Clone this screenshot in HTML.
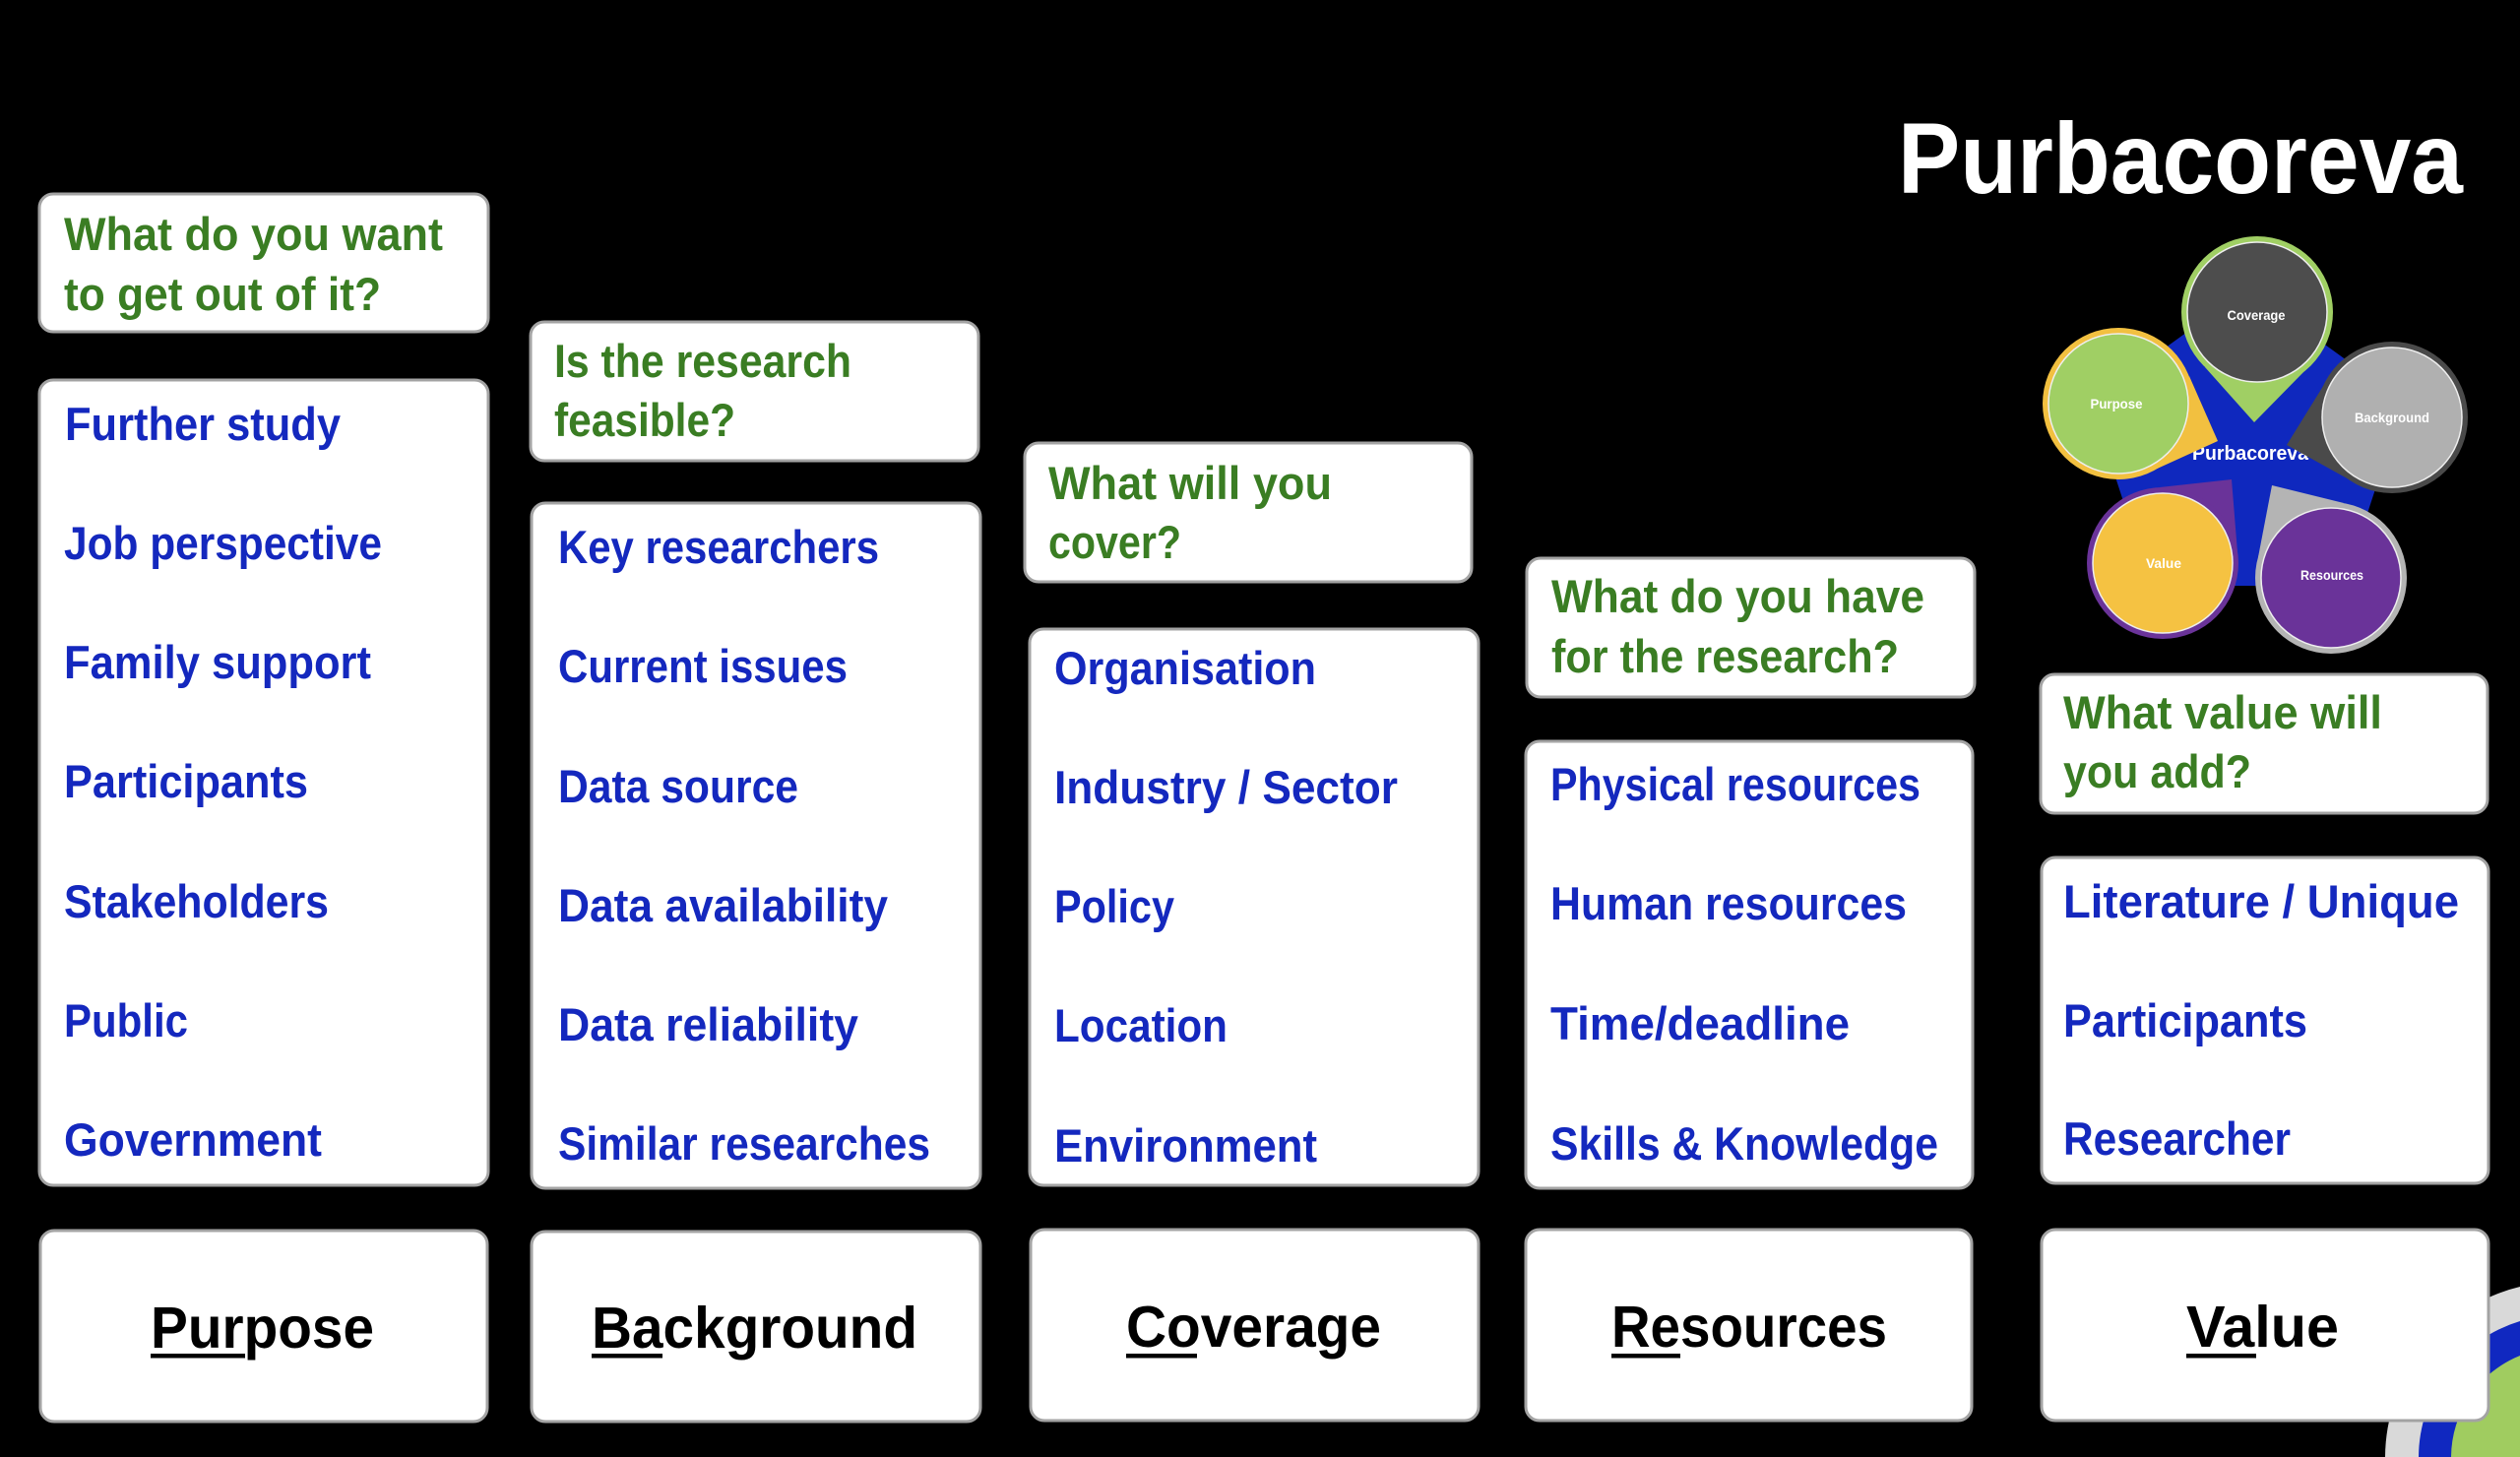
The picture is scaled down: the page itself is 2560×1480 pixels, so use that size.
<!DOCTYPE html>
<html>
<head>
<meta charset="utf-8">
<style>
html,body{margin:0;padding:0;background:#000;width:2560px;height:1480px;overflow:hidden;}
svg{display:block;overflow:hidden;}
text{font-family:"Liberation Sans",Arial,sans-serif;font-weight:bold;}
.q{fill:#3a7d23;font-size:47.5px;}
.i{fill:#1428be;font-size:47.5px;}
.l{fill:#000;font-size:59px;}
.w{fill:#fff;}
.box{fill:#fff;stroke:#a3a3a3;stroke-width:3;}
</style>
</head>
<body>
<svg width="2560" height="1480" viewBox="0 0 2560 1480" xmlns="http://www.w3.org/2000/svg">
<rect x="0" y="0" width="2560" height="1480" fill="#000"/>

<!-- bottom-right decoration (clipped to frame) -->
<path d="M2423,1480 A179,179 0 0 1 2560,1307 L2560,1480 Z" fill="#d9d9d9"/>
<path d="M2457,1480 A145,145 0 0 1 2560,1342 L2560,1480 Z" fill="#1028c0"/>
<path d="M2490,1480 A112,112 0 0 1 2560,1377 L2560,1480 Z" fill="#a0cc60"/>

<!-- Title -->
<text class="w" x="1928" y="196" font-size="102" textLength="574" lengthAdjust="spacingAndGlyphs">Purbacoreva</text>

<!-- Wheel -->
<polygon points="2283,293 2442,408 2381,595 2185,595 2124,408" fill="#0f28be"/>
<text class="w" x="2286" y="467" font-size="20" text-anchor="middle" textLength="118" lengthAdjust="spacingAndGlyphs">Purbacoreva</text>

<!-- Purpose callout -->
<g>
<polygon points="2224,382 2253,448 2187,478" fill="#f2c040"/>
<circle cx="2152" cy="410" r="77" fill="#f2c040"/>
<circle cx="2152" cy="410" r="71" fill="#a0cf64" stroke="#eee" stroke-width="1.5"/>
<text class="w" x="2150" y="415" font-size="14" text-anchor="middle" textLength="53" lengthAdjust="spacingAndGlyphs">Purpose</text>
</g>
<!-- Coverage callout -->
<g>
<polygon points="2343,375 2290,429 2240,373" fill="#a0cf64"/>
<circle cx="2293" cy="317" r="77" fill="#a0cf64"/>
<circle cx="2293" cy="317" r="71" fill="#4d4d4d" stroke="#eee" stroke-width="1.5"/>
<text class="w" x="2292" y="325" font-size="14" text-anchor="middle" textLength="59" lengthAdjust="spacingAndGlyphs">Coverage</text>
</g>
<!-- Background callout -->
<g>
<polygon points="2388,488 2323,452 2362,389" fill="#4a4a4a"/>
<circle cx="2430" cy="424" r="77" fill="#4a4a4a"/>
<circle cx="2430" cy="424" r="71" fill="#b0b0b0" stroke="#eee" stroke-width="1.5"/>
<text class="w" x="2430" y="429" font-size="14" text-anchor="middle" textLength="76" lengthAdjust="spacingAndGlyphs">Background</text>
</g>
<!-- Resources callout -->
<g>
<polygon points="2294,566 2308,493 2381,511" fill="#b4b4b4"/>
<circle cx="2368" cy="587" r="77" fill="#b4b4b4"/>
<circle cx="2368" cy="587" r="71" fill="#6a3399" stroke="#eee" stroke-width="1.5"/>
<text class="w" x="2369" y="589" font-size="14" text-anchor="middle" textLength="64" lengthAdjust="spacingAndGlyphs">Resources</text>
</g>
<!-- Value callout -->
<g>
<polygon points="2194,495 2267,487 2273,561" fill="#6a3399"/>
<circle cx="2197" cy="572" r="77" fill="#6a3399"/>
<circle cx="2197" cy="572" r="71" fill="#f5c242" stroke="#eee" stroke-width="1.5"/>
<text class="w" x="2198" y="577" font-size="14" text-anchor="middle" textLength="36" lengthAdjust="spacingAndGlyphs">Value</text>
</g>

<!-- Column 1 -->
<rect class="box" x="40" y="197" width="456" height="140" rx="14"/>
<text class="q" x="65" y="254" textLength="385" lengthAdjust="spacingAndGlyphs">What do you want</text>
<text class="q" x="65" y="315" textLength="322" lengthAdjust="spacingAndGlyphs">to get out of it?</text>
<rect class="box" x="40" y="386" width="456" height="818" rx="14"/>
<text class="i" x="66" y="447" textLength="280" lengthAdjust="spacingAndGlyphs">Further study</text>
<text class="i" x="65" y="568" textLength="323" lengthAdjust="spacingAndGlyphs">Job perspective</text>
<text class="i" x="65" y="689" textLength="312" lengthAdjust="spacingAndGlyphs">Family support</text>
<text class="i" x="65" y="810" textLength="248" lengthAdjust="spacingAndGlyphs">Participants</text>
<text class="i" x="65" y="932" textLength="269" lengthAdjust="spacingAndGlyphs">Stakeholders</text>
<text class="i" x="65" y="1053" textLength="126" lengthAdjust="spacingAndGlyphs">Public</text>
<text class="i" x="65" y="1174" textLength="262" lengthAdjust="spacingAndGlyphs">Government</text>
<rect class="box" x="41" y="1250" width="454" height="194" rx="14"/>
<text class="l" x="153" y="1369" textLength="227" lengthAdjust="spacingAndGlyphs">Purpose</text>
<rect x="153" y="1375" width="96" height="4.5" fill="#000"/>

<!-- Column 2 -->
<rect class="box" x="539" y="327" width="455" height="141" rx="14"/>
<text class="q" x="563" y="383" textLength="302" lengthAdjust="spacingAndGlyphs">Is the research</text>
<text class="q" x="563" y="443" textLength="184" lengthAdjust="spacingAndGlyphs">feasible?</text>
<rect class="box" x="540" y="511" width="456" height="696" rx="14"/>
<text class="i" x="567" y="572" textLength="326" lengthAdjust="spacingAndGlyphs">Key researchers</text>
<text class="i" x="567" y="693" textLength="294" lengthAdjust="spacingAndGlyphs">Current issues</text>
<text class="i" x="567" y="815" textLength="244" lengthAdjust="spacingAndGlyphs">Data source</text>
<text class="i" x="567" y="936" textLength="335" lengthAdjust="spacingAndGlyphs">Data availability</text>
<text class="i" x="567" y="1057" textLength="305" lengthAdjust="spacingAndGlyphs">Data reliability</text>
<text class="i" x="567" y="1178" textLength="378" lengthAdjust="spacingAndGlyphs">Similar researches</text>
<rect class="box" x="540" y="1251" width="456" height="193" rx="14"/>
<text class="l" x="601" y="1369" textLength="331" lengthAdjust="spacingAndGlyphs">Background</text>
<rect x="601" y="1375" width="72" height="4.5" fill="#000"/>

<!-- Column 3 -->
<rect class="box" x="1041" y="450" width="454" height="141" rx="14"/>
<text class="q" x="1065" y="507" textLength="288" lengthAdjust="spacingAndGlyphs">What will you</text>
<text class="q" x="1065" y="567" textLength="135" lengthAdjust="spacingAndGlyphs">cover?</text>
<rect class="box" x="1046" y="639" width="456" height="565" rx="14"/>
<text class="i" x="1071" y="695" textLength="266" lengthAdjust="spacingAndGlyphs">Organisation</text>
<text class="i" x="1071" y="816" textLength="349" lengthAdjust="spacingAndGlyphs">Industry / Sector</text>
<text class="i" x="1071" y="937" textLength="122" lengthAdjust="spacingAndGlyphs">Policy</text>
<text class="i" x="1071" y="1058" textLength="176" lengthAdjust="spacingAndGlyphs">Location</text>
<text class="i" x="1071" y="1180" textLength="267" lengthAdjust="spacingAndGlyphs">Environment</text>
<rect class="box" x="1047" y="1249" width="455" height="194" rx="14"/>
<text class="l" x="1144" y="1368" textLength="259" lengthAdjust="spacingAndGlyphs">Coverage</text>
<rect x="1144" y="1375" width="72" height="4.5" fill="#000"/>

<!-- Column 4 -->
<rect class="box" x="1551" y="567" width="455" height="141" rx="14"/>
<text class="q" x="1576" y="622" textLength="379" lengthAdjust="spacingAndGlyphs">What do you have</text>
<text class="q" x="1576" y="683" textLength="353" lengthAdjust="spacingAndGlyphs">for the research?</text>
<rect class="box" x="1550" y="753" width="454" height="454" rx="14"/>
<text class="i" x="1575" y="813" textLength="376" lengthAdjust="spacingAndGlyphs">Physical resources</text>
<text class="i" x="1575" y="934" textLength="362" lengthAdjust="spacingAndGlyphs">Human resources</text>
<text class="i" x="1575" y="1056" textLength="304" lengthAdjust="spacingAndGlyphs">Time/deadline</text>
<text class="i" x="1575" y="1178" textLength="394" lengthAdjust="spacingAndGlyphs">Skills &amp; Knowledge</text>
<rect class="box" x="1550" y="1249" width="453" height="194" rx="14"/>
<text class="l" x="1637" y="1368" textLength="280" lengthAdjust="spacingAndGlyphs">Resources</text>
<rect x="1637" y="1375" width="70" height="4.5" fill="#000"/>

<!-- Column 5 -->
<rect class="box" x="2073" y="685" width="454" height="141" rx="14"/>
<text class="q" x="2096" y="740" textLength="324" lengthAdjust="spacingAndGlyphs">What value will</text>
<text class="q" x="2096" y="800" textLength="191" lengthAdjust="spacingAndGlyphs">you add?</text>
<rect class="box" x="2074" y="871" width="454" height="331" rx="14"/>
<text class="i" x="2096" y="932" textLength="402" lengthAdjust="spacingAndGlyphs">Literature / Unique</text>
<text class="i" x="2096" y="1053" textLength="248" lengthAdjust="spacingAndGlyphs">Participants</text>
<text class="i" x="2096" y="1173" textLength="231" lengthAdjust="spacingAndGlyphs">Researcher</text>
<rect class="box" x="2074" y="1249" width="454" height="194" rx="14"/>
<text class="l" x="2221" y="1368" textLength="155" lengthAdjust="spacingAndGlyphs">Value</text>
<rect x="2221" y="1375" width="71" height="4.5" fill="#000"/>
</svg>
</body>
</html>
